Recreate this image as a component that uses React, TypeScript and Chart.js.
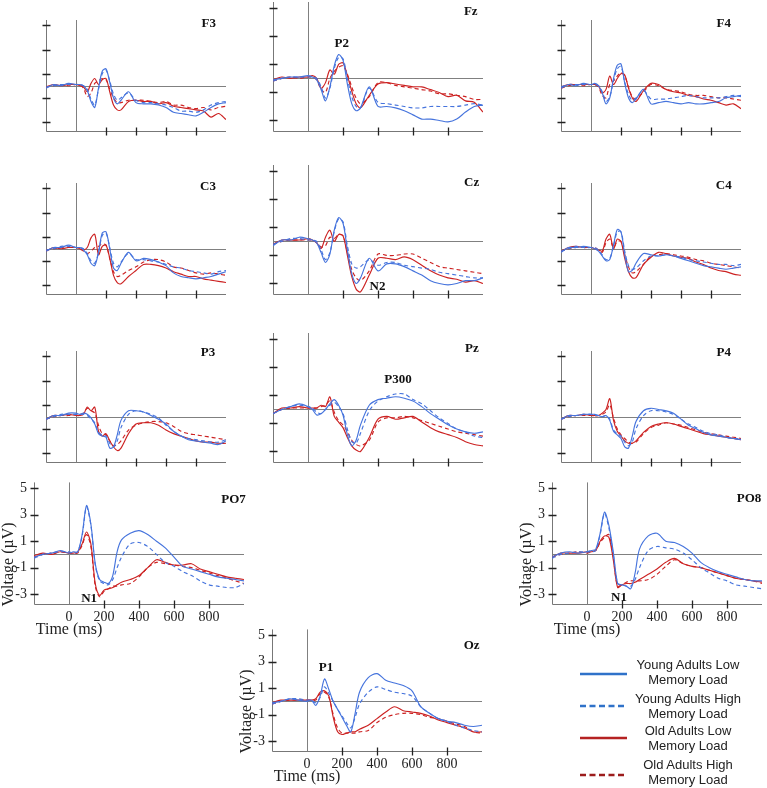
import React, { useEffect, useRef } from "react";
import { Chart, registerables } from "chart.js";

Chart.register(...registerables);

// ---------- data ----------
const TIMES = [-200, -150, -100, -50, 0, 25, 50, 75, 100, 125, 150, 175, 200, 225, 250, 275, 300, 350, 400, 450, 500, 550, 600, 650, 700, 750, 800, 850, 900, 950, 1000];
const Y_TICKS = [-3, -1, 1, 3, 5];
const X_TICKS = [0, 200, 400, 600, 800];
const SERIES_NAMES = ["Young Adults Low Memory Load", "Young Adults High Memory Load", "Old Adults Low Memory Load", "Old Adults High Memory Load"];
const LEGEND_LINES = [["Young Adults Low", "Memory Load"], ["Young Adults High", "Memory Load"], ["Old Adults Low", "Memory Load"], ["Old Adults High", "Memory Load"]];

const F3_YL = [-0.2, 0.1, 0.0, 0.2, 0.1, 0.1, 0.0, -0.4, -1.3, -1.8, -0.2, 1.2, 1.4, 0.3, -1.0, -1.5, -1.2, -0.5, -1.4, -1.5, -1.5, -1.6, -1.8, -2.2, -2.3, -2.4, -2.5, -2.2, -1.8, -1.5, -1.4];
const F3_YH = [-0.1, 0.0, 0.1, 0.1, 0.1, 0.1, 0.0, -0.3, -1.1, -1.6, -0.3, 1.0, 1.3, 0.4, -0.7, -1.2, -1.0, -0.6, -1.2, -1.4, -1.4, -1.5, -1.6, -1.8, -2.1, -2.1, -2.2, -2.0, -1.6, -1.4, -1.3];
const F3_OL = [-0.1, 0.1, 0.0, 0.1, 0.1, 0.0, -0.1, -0.5, 0.2, 0.6, 0.1, 0.5, 0.6, -0.5, -1.6, -2.0, -2.0, -1.3, -1.2, -1.3, -1.3, -1.5, -1.4, -1.7, -1.8, -1.9, -2.0, -2.1, -2.6, -2.3, -2.8];
const F3_OD = [-0.1, 0.0, 0.1, 0.0, 0.1, 0.1, -0.2, -0.9, -0.6, 0.2, 0.4, 0.6, 0.5, -0.3, -1.0, -1.4, -1.4, -1.2, -1.2, -1.2, -1.3, -1.4, -1.3, -1.6, -1.6, -1.8, -1.9, -1.8, -2.0, -1.8, -1.7];

const FZ_YL = [-0.1, 0.0, 0.1, 0.1, 0.2, 0.1, -0.1, -0.8, -1.6, -0.6, 0.9, 1.7, 1.3, -0.4, -1.8, -2.3, -2.1, -0.6, -2.0, -2.0, -2.1, -2.3, -2.6, -2.9, -2.9, -3.0, -3.1, -2.9, -2.4, -2.0, -1.9];
const FZ_YH = [-0.2, 0.0, 0.1, 0.1, 0.1, 0.1, 0.0, -0.6, -1.4, -0.7, 0.7, 1.5, 1.4, 0.0, -1.3, -2.0, -2.1, -0.7, -1.7, -1.8, -1.9, -2.0, -2.1, -2.1, -2.0, -2.0, -2.0, -2.0, -1.9, -1.8, -1.9];
const FZ_OL = [-0.1, 0.1, 0.0, 0.1, 0.1, 0.2, 0.0, -0.7, -0.3, 0.6, 0.3, 1.0, 1.1, 0.2, -0.9, -1.8, -2.1, -1.2, -0.4, -0.3, -0.4, -0.5, -0.6, -0.6, -0.8, -1.0, -1.3, -1.2, -1.6, -1.7, -2.4];
const FZ_OD = [-0.2, 0.0, 0.1, 0.0, 0.1, 0.1, -0.1, -0.8, -1.0, 0.0, 0.5, 0.8, 0.9, 0.3, -0.6, -1.4, -1.8, -1.3, -0.3, -0.3, -0.5, -0.6, -0.7, -0.8, -0.9, -1.1, -1.1, -1.2, -1.3, -1.5, -1.5];

const F4_YL = [-0.2, 0.1, 0.0, 0.2, 0.1, 0.2, 0.0, -0.6, -1.5, -1.0, 0.6, 1.7, 1.8, 0.2, -1.0, -1.4, -1.1, -0.3, -1.5, -1.4, -1.3, -1.4, -1.5, -1.4, -1.5, -1.5, -1.4, -1.3, -1.0, -0.9, -0.8];
const F4_YH = [-0.1, 0.1, 0.1, 0.1, 0.1, 0.1, 0.0, -0.5, -1.3, -0.9, 0.4, 1.4, 1.6, 0.3, -0.7, -1.2, -1.0, -0.4, -1.1, -1.1, -1.1, -1.0, -0.9, -0.8, -0.9, -1.0, -1.0, -1.0, -0.9, -0.8, -0.9];
const F4_OL = [-0.1, 0.1, 0.1, 0.1, 0.1, 0.1, 0.0, -0.6, -0.3, 0.8, 0.1, 0.6, 1.0, 0.9, -0.2, -1.0, -1.3, -0.4, 0.2, 0.1, -0.3, -0.5, -0.6, -0.8, -0.9, -1.1, -1.2, -1.4, -1.6, -1.5, -1.9];
const F4_OD = [-0.2, 0.0, 0.1, 0.0, 0.1, 0.1, -0.1, -0.8, -1.0, 0.1, 0.4, 0.8, 1.1, 0.8, -0.1, -0.9, -1.1, -0.5, 0.1, 0.0, -0.3, -0.4, -0.5, -0.7, -0.8, -0.8, -0.9, -1.0, -1.0, -1.1, -1.2];

const C3_YL = [-0.2, 0.1, 0.1, 0.3, 0.1, 0.1, -0.1, -0.5, -1.2, -1.4, -0.3, 1.3, 1.4, 0.0, -1.6, -1.8, -1.2, -0.3, -1.0, -0.8, -0.9, -1.1, -1.4, -2.0, -2.3, -2.4, -2.5, -2.4, -2.3, -2.1, -1.9];
const C3_YH = [-0.1, 0.0, 0.2, 0.2, 0.1, 0.1, 0.0, -0.4, -1.0, -1.2, -0.3, 1.1, 1.3, 0.1, -1.2, -1.5, -1.1, -0.4, -0.9, -0.9, -1.0, -1.1, -1.3, -1.5, -1.6, -1.8, -1.9, -2.0, -2.1, -1.9, -1.8];
const C3_OL = [-0.2, 0.1, 0.0, 0.1, 0.1, 0.0, -0.1, 0.1, 0.9, 1.2, -0.5, 0.2, 0.3, -0.8, -2.2, -2.8, -2.9, -2.3, -1.8, -1.3, -1.3, -1.4, -1.6, -1.9, -2.1, -2.3, -2.3, -2.5, -2.6, -2.7, -2.8];
const C3_OD = [-0.1, 0.0, 0.1, 0.1, 0.1, 0.0, -0.2, -0.4, -0.2, 0.1, 0.2, 0.4, 0.3, -0.8, -1.9, -2.3, -2.2, -1.8, -1.5, -1.1, -0.9, -0.9, -1.1, -1.5, -1.6, -1.8, -2.0, -2.1, -2.0, -2.1, -2.2];

const CZ_YL = [-0.3, 0.1, 0.1, 0.3, 0.2, 0.1, -0.1, -0.8, -1.5, -0.9, 0.8, 1.7, 1.3, -0.6, -2.3, -3.0, -2.6, -1.2, -2.1, -1.6, -1.6, -1.8, -2.1, -2.4, -2.8, -3.0, -3.1, -3.0, -2.8, -2.8, -2.6];
const CZ_YH = [-0.2, 0.0, 0.2, 0.2, 0.1, 0.1, 0.0, -0.6, -1.3, -0.8, 0.7, 1.6, 1.4, -0.3, -1.6, -1.9, -1.8, -1.3, -1.7, -1.5, -1.5, -1.7, -1.8, -1.9, -2.0, -2.2, -2.3, -2.4, -2.5, -2.6, -2.6];
const CZ_OL = [-0.2, 0.1, 0.1, 0.1, 0.2, 0.1, -0.1, -0.5, 0.3, 0.8, 0.0, 0.5, 0.4, -1.0, -2.5, -3.4, -3.6, -2.4, -1.2, -1.2, -1.3, -1.1, -1.3, -1.7, -2.1, -2.4, -2.6, -2.7, -2.9, -2.8, -3.0];
const CZ_OD = [-0.2, 0.0, 0.1, 0.1, 0.1, 0.1, -0.1, -0.4, -0.3, 0.3, 0.2, 0.5, 0.4, -0.8, -2.0, -2.6, -2.8, -2.1, -0.9, -1.0, -1.0, -0.9, -0.9, -1.2, -1.5, -1.8, -1.9, -2.0, -2.1, -2.2, -2.3];

const C4_YL = [-0.3, 0.1, 0.1, 0.2, 0.1, 0.0, -0.2, -0.6, -1.0, -0.9, 0.3, 1.6, 1.4, -0.5, -1.9, -1.8, -1.2, -0.4, -0.5, -0.6, -0.5, -0.6, -0.8, -1.0, -1.2, -1.4, -1.5, -1.6, -1.7, -1.6, -1.5];
const C4_YH = [-0.2, 0.0, 0.2, 0.1, 0.1, 0.1, -0.1, -0.5, -0.9, -0.8, 0.2, 1.4, 1.4, -0.2, -1.4, -1.7, -1.6, -1.0, -0.6, -0.6, -0.5, -0.6, -0.7, -0.9, -1.0, -1.1, -1.2, -1.3, -1.3, -1.4, -1.3];
const C4_OL = [-0.2, 0.1, 0.2, 0.1, 0.1, 0.0, -0.1, -0.2, 0.8, 1.2, 0.0, 0.8, 0.6, -0.8, -1.9, -2.4, -2.4, -1.3, -0.7, -0.3, -0.4, -0.6, -0.7, -0.8, -1.1, -1.3, -1.6, -1.8, -1.9, -2.1, -2.2];
const C4_OD = [-0.2, 0.0, 0.1, 0.1, 0.1, 0.1, -0.1, -0.3, 0.5, 0.8, 0.1, 0.6, 0.6, -0.5, -1.5, -2.0, -1.9, -1.3, -0.6, -0.5, -0.4, -0.5, -0.6, -0.7, -0.9, -1.0, -1.2, -1.3, -1.4, -1.5, -1.6];

const P3_YL = [-0.2, 0.1, 0.1, 0.3, 0.3, 0.2, 0.3, 0.2, -0.1, -0.6, -1.4, -1.6, -1.7, -2.6, -2.5, -1.5, -0.3, 0.5, 0.5, 0.4, 0.1, -0.2, -0.6, -1.2, -1.6, -1.9, -2.0, -2.1, -2.2, -2.3, -2.0];
const P3_YH = [-0.2, 0.0, 0.2, 0.2, 0.2, 0.2, 0.2, 0.1, -0.2, -0.5, -1.3, -1.5, -1.6, -2.2, -2.5, -2.0, -0.9, 0.2, 0.5, 0.4, 0.2, -0.1, -0.7, -1.2, -1.6, -1.8, -1.9, -2.0, -2.1, -2.1, -1.9];
const P3_OL = [-0.2, 0.1, 0.1, 0.2, 0.1, 0.1, 0.2, 0.8, 0.5, 0.8, -1.2, -1.6, -1.4, -2.0, -2.5, -2.8, -2.6, -1.4, -0.6, -0.5, -0.5, -0.7, -1.1, -1.4, -1.6, -1.8, -2.0, -2.1, -2.1, -2.2, -2.2];
const P3_OD = [-0.2, 0.0, 0.1, 0.1, 0.2, 0.2, 0.3, 0.7, 0.5, 0.3, -0.7, -1.4, -1.5, -2.0, -2.4, -2.3, -2.0, -1.1, -0.7, -0.5, -0.4, -0.4, -0.5, -0.8, -1.2, -1.4, -1.5, -1.6, -1.7, -1.8, -1.9];

const PZ_YL = [-0.3, 0.0, 0.2, 0.4, 0.2, 0.0, -0.4, -0.3, 0.0, 0.4, 0.7, 0.3, -0.4, -1.8, -2.6, -2.2, -1.1, 0.3, 0.7, 0.8, 0.9, 0.8, 0.6, 0.2, -0.3, -0.7, -1.1, -1.4, -1.6, -1.7, -1.6];
const PZ_YH = [-0.3, 0.0, 0.2, 0.3, 0.2, 0.1, -0.2, -0.3, 0.0, 0.3, 0.5, 0.2, -0.3, -1.4, -2.3, -2.4, -1.7, -0.1, 0.6, 0.9, 1.1, 1.1, 0.7, 0.4, -0.1, -0.6, -1.0, -1.4, -1.6, -1.9, -2.0];
const PZ_OL = [-0.3, 0.1, 0.1, 0.2, 0.1, 0.1, 0.1, 0.3, 0.2, 0.9, -0.5, -0.9, -1.3, -2.0, -2.6, -2.9, -3.0, -2.0, -0.7, -0.5, -0.7, -0.6, -0.5, -0.9, -1.3, -1.6, -1.8, -2.0, -2.3, -2.5, -2.6];
const PZ_OD = [-0.3, 0.0, 0.1, 0.1, 0.1, 0.1, 0.1, 0.2, 0.3, 0.6, -0.2, -0.8, -1.1, -1.6, -2.2, -2.5, -2.6, -2.2, -0.9, -0.6, -0.6, -0.5, -0.6, -0.8, -1.0, -1.2, -1.4, -1.6, -1.7, -1.8, -1.9];

const P4_YL = [-0.2, 0.1, 0.1, 0.2, 0.2, 0.2, 0.1, 0.0, 0.1, -0.3, -1.2, -1.5, -1.8, -2.5, -2.6, -1.6, -0.4, 0.5, 0.7, 0.6, 0.5, 0.3, -0.2, -0.7, -1.0, -1.3, -1.5, -1.6, -1.7, -1.8, -1.9];
const P4_YH = [-0.2, 0.0, 0.1, 0.2, 0.2, 0.1, 0.1, 0.0, 0.1, -0.2, -1.1, -1.4, -1.6, -2.1, -2.4, -2.1, -1.0, 0.1, 0.5, 0.5, 0.4, 0.2, -0.2, -0.6, -0.9, -1.2, -1.4, -1.5, -1.7, -1.8, -1.8];
const P4_OL = [-0.2, 0.1, 0.1, 0.2, 0.1, 0.1, 0.1, 0.3, 0.6, 1.5, -0.3, -1.2, -1.6, -2.0, -2.2, -2.2, -2.0, -1.3, -0.8, -0.6, -0.5, -0.6, -0.8, -1.0, -1.2, -1.4, -1.5, -1.6, -1.7, -1.8, -1.9];
const P4_OD = [-0.2, 0.0, 0.1, 0.1, 0.1, 0.1, 0.1, 0.2, 0.4, 1.0, -0.1, -1.0, -1.5, -1.8, -2.1, -2.2, -2.1, -1.4, -0.9, -0.7, -0.5, -0.6, -0.7, -0.9, -1.1, -1.3, -1.4, -1.5, -1.6, -1.7, -1.8];

const PO7_YL = [-0.2, 0.0, 0.1, 0.3, 0.1, 0.2, 0.2, 1.5, 3.7, 2.3, -0.7, -1.9, -2.1, -2.2, -1.6, 0.2, 1.1, 1.6, 1.8, 1.5, 1.0, 0.5, -0.2, -0.9, -1.1, -1.3, -1.5, -1.7, -1.8, -1.9, -2.0];
const PO7_YH = [-0.3, 0.0, 0.1, 0.2, 0.2, 0.1, 0.2, 1.4, 3.6, 2.2, -0.8, -2.0, -2.2, -2.3, -1.9, -1.0, -0.2, 0.8, 0.9, 0.6, 0.0, -0.6, -0.9, -1.3, -1.6, -2.0, -2.3, -2.4, -2.5, -2.5, -2.2];
const PO7_OL = [-0.1, 0.1, 0.0, 0.2, 0.1, 0.1, 0.2, 0.8, 1.7, 0.8, -2.2, -3.1, -2.7, -2.6, -2.5, -2.3, -2.1, -1.9, -1.6, -1.0, -0.4, -0.6, -0.8, -0.8, -0.7, -1.1, -1.3, -1.5, -1.7, -1.8, -1.9];
const PO7_OD = [-0.2, 0.0, 0.1, 0.2, 0.1, 0.1, 0.1, 0.7, 1.5, 0.6, -2.4, -3.2, -2.8, -2.6, -2.4, -2.4, -2.3, -2.2, -1.7, -1.0, -0.6, -0.7, -0.8, -0.9, -1.0, -1.2, -1.4, -1.6, -1.8, -2.0, -2.2];

const PO8_YL = [-0.2, 0.1, 0.2, 0.1, 0.2, 0.3, 0.4, 1.6, 3.2, 2.2, 0.2, -2.2, -2.3, -2.4, -2.6, -1.4, 0.4, 1.4, 1.6, 1.0, 0.9, 0.6, 0.1, -0.6, -1.0, -1.3, -1.5, -1.7, -1.9, -2.0, -2.0];
const PO8_YH = [-0.3, 0.0, 0.1, 0.2, 0.2, 0.2, 0.3, 1.5, 3.1, 2.0, 0.0, -2.2, -2.3, -2.4, -2.4, -1.9, -1.0, 0.3, 0.6, 0.5, 0.4, 0.1, -0.4, -1.0, -1.4, -1.8, -2.0, -2.3, -2.4, -2.5, -2.6];
const PO8_OL = [-0.2, 0.1, 0.1, 0.1, 0.2, 0.2, 0.3, 1.0, 1.4, 1.3, -0.4, -2.5, -2.3, -2.2, -2.2, -2.1, -1.9, -1.5, -1.1, -0.6, -0.3, -0.7, -0.9, -1.0, -1.2, -1.4, -1.6, -1.8, -1.9, -2.0, -2.1];
const PO8_OD = [-0.2, 0.0, 0.1, 0.2, 0.1, 0.2, 0.3, 0.9, 1.3, 1.5, -0.2, -2.4, -2.3, -2.1, -2.0, -2.0, -2.0, -1.9, -1.5, -0.9, -0.4, -0.7, -0.9, -1.0, -1.2, -1.4, -1.6, -1.8, -1.9, -2.0, -2.2];

const OZ_YL = [-0.1, 0.0, 0.2, 0.1, 0.0, 0.1, -0.3, 0.4, 1.7, 0.9, 0.0, -0.6, -1.2, -1.8, -2.3, -0.9, 0.7, 1.8, 2.1, 1.6, 1.4, 1.2, 0.8, -0.4, -0.9, -1.3, -1.5, -1.6, -1.8, -1.9, -1.8];
const OZ_YH = [-0.2, 0.0, 0.2, 0.2, 0.1, 0.1, -0.1, 0.3, 1.1, 0.6, 0.0, -0.6, -1.1, -1.6, -2.0, -1.2, -0.2, 0.7, 1.1, 0.9, 0.7, 0.6, 0.4, -0.4, -0.9, -1.3, -1.5, -1.8, -2.0, -2.2, -2.3];
const OZ_OL = [-0.1, 0.1, 0.1, 0.1, 0.1, 0.1, 0.2, 0.7, 0.8, 0.4, -1.2, -2.3, -2.5, -2.4, -2.3, -2.3, -2.1, -1.8, -1.3, -0.8, -0.4, -0.7, -0.8, -0.9, -1.1, -1.4, -1.6, -1.8, -2.0, -2.3, -2.3];
const OZ_OD = [-0.2, 0.0, 0.1, 0.1, 0.1, 0.1, 0.1, 0.6, 0.7, 0.3, -1.0, -2.0, -2.4, -2.4, -2.4, -2.4, -2.3, -2.2, -1.6, -1.2, -1.0, -0.9, -0.9, -1.0, -1.2, -1.3, -1.5, -1.7, -1.9, -2.3, -2.4];

// ---------- layout / style ----------
const X_MIN = -200, X_MAX = 1000, Y_MIN = -3.75, Y_MAX = 5.45;
const SIZES: any = { small: { w: 180, h: 111 }, large: { w: 210, h: 129 } };
const BLUE = "#4674dd";
const RED = "#cc2222";
const SERIF = "'Liberation Serif', 'Times New Roman', serif";
const SANS = "'Liberation Sans', Arial, sans-serif";

const PANELS = [
  { name: "F3", L: 46, T: 20, size: "small", labeled: false, series: [F3_YL, F3_YH, F3_OL, F3_OD], title: [885, 5.12] },
  { name: "Fz", L: 273, T: 2, size: "large", labeled: false, series: [FZ_YL, FZ_YH, FZ_OL, FZ_OD], title: [930, 4.74], peak: ["P2", 193, 2.5] },
  { name: "F4", L: 561, T: 20, size: "small", labeled: false, series: [F4_YL, F4_YH, F4_OL, F4_OD], title: [885, 5.12] },
  { name: "C3", L: 46, T: 183, size: "small", labeled: false, series: [C3_YL, C3_YH, C3_OL, C3_OD], title: [880, 5.12] },
  { name: "Cz", L: 273, T: 165, size: "large", labeled: false, series: [CZ_YL, CZ_YH, CZ_OL, CZ_OD], title: [935, 4.17], peak: ["N2", 397, -3.26] },
  { name: "C4", L: 561, T: 183, size: "small", labeled: false, series: [C4_YL, C4_YH, C4_OL, C4_OD], title: [885, 5.2] },
  { name: "P3", L: 46, T: 351, size: "small", labeled: false, series: [P3_YL, P3_YH, P3_OL, P3_OD], title: [880, 5.29] },
  { name: "Pz", L: 273, T: 333, size: "large", labeled: false, series: [PZ_YL, PZ_YH, PZ_OL, PZ_OD], title: [937, 4.31], peak: ["P300", 514, 2.1] },
  { name: "P4", L: 561, T: 351, size: "small", labeled: false, series: [P4_YL, P4_YH, P4_OL, P4_OD], title: [885, 5.29] },
  { name: "PO7", L: 34, T: 475, size: "large", labeled: true, series: [PO7_YL, PO7_YH, PO7_OL, PO7_OD], title: [940, 4.17], peak: ["N1", 115, -3.33] },
  { name: "PO8", L: 552, T: 475, size: "large", labeled: true, series: [PO8_YL, PO8_YH, PO8_OL, PO8_OD], title: [926, 4.24], peak: ["N1", 183, -3.26] },
  { name: "Oz", L: 272, T: 622, size: "large", labeled: true, series: [OZ_YL, OZ_YH, OZ_OL, OZ_OD], title: [941, 4.24], peak: ["P1", 109, 2.53] },
];

const SERIES_STYLE = [
  { color: BLUE, dash: [] as number[] },
  { color: BLUE, dash: [4, 3] },
  { color: RED, dash: [] as number[] },
  { color: RED, dash: [4, 3] },
];

function ErpPanel({ p }: { p: any }) {
  const ref = useRef<HTMLCanvasElement>(null);
  const { w, h } = SIZES[p.size];
  const M = 8;
  const yw = p.labeled ? Math.min(40, p.L) : 0;
  const xh = p.labeled ? 45 : 0;
  const cl = p.labeled ? p.L - yw : p.L - M;
  const ct = p.T - M;
  const cw = p.labeled ? yw + w + M : w + 2 * M;
  const ch = p.labeled ? M + h + xh : h + 2 * M;

  useEffect(() => {
    const plugin = {
      id: "erpAxes",
      beforeDatasetsDraw(chart: any) {
        const { ctx, chartArea: a, scales } = chart;
        const xs = scales.x, ys = scales.y;
        const x0 = Math.round(xs.getPixelForValue(0)) + 0.5;
        const y0 = Math.round(ys.getPixelForValue(0)) + 0.5;
        const left = Math.round(a.left) + 0.5;
        const bottom = Math.round(a.bottom) + 0.5;
        ctx.save();
        ctx.lineWidth = 1;
        ctx.strokeStyle = "#777";
        ctx.beginPath();
        ctx.moveTo(left, a.top);
        ctx.lineTo(left, bottom);
        ctx.lineTo(a.right, bottom);
        ctx.stroke();
        ctx.strokeStyle = "#808080";
        ctx.beginPath();
        ctx.moveTo(x0, a.top);
        ctx.lineTo(x0, bottom);
        ctx.moveTo(left, y0);
        ctx.lineTo(a.right, y0);
        ctx.stroke();
        ctx.strokeStyle = "#222";
        ctx.lineWidth = 1.3;
        ctx.beginPath();
        Y_TICKS.forEach((v) => {
          const yy = Math.round(ys.getPixelForValue(v)) + 0.5;
          ctx.moveTo(left - 4, yy);
          ctx.lineTo(left + 4, yy);
        });
        X_TICKS.filter((v) => v !== 0).forEach((v) => {
          const xx = Math.round(xs.getPixelForValue(v)) + 0.5;
          ctx.moveTo(xx, bottom - 4);
          ctx.lineTo(xx, bottom + 4);
        });
        ctx.stroke();
        ctx.restore();
      },
      afterDatasetsDraw(chart: any) {
        const { ctx, chartArea: a, scales } = chart;
        const xs = scales.x, ys = scales.y;
        ctx.save();
        ctx.fillStyle = "#111";
        ctx.textAlign = "center";
        ctx.textBaseline = "middle";
        ctx.font = `bold 13px ${SERIF}`;
        ctx.fillText(p.name, xs.getPixelForValue(p.title[0]), ys.getPixelForValue(p.title[1]));
        if (p.peak) {
          ctx.fillText(p.peak[0], xs.getPixelForValue(p.peak[1]), ys.getPixelForValue(p.peak[2]));
        }
        if (p.labeled) {
          ctx.fillStyle = "#222";
          ctx.font = `16px ${SERIF}`;
          ctx.fillText("Time (ms)", xs.getPixelForValue(0), a.bottom + 26);
          ctx.translate(a.left - 25, ys.getPixelForValue(0) + 10);
          ctx.rotate(-Math.PI / 2);
          ctx.fillText("Voltage (\u00b5V)", 0, 0);
        }
        ctx.restore();
      },
    };

    const datasets = p.series.map((vals: number[], i: number) => ({
      label: SERIES_NAMES[i],
      data: TIMES.map((t, k) => ({ x: t, y: vals[k] })),
      borderColor: SERIES_STYLE[i].color,
      borderDash: SERIES_STYLE[i].dash,
      borderWidth: 1.15,
      pointRadius: 0,
      tension: 0.3,
      fill: false,
    }));

    const tickFont = { family: SERIF, size: 14 };
    const chart = new Chart(ref.current as HTMLCanvasElement, {
      type: "line",
      data: { datasets },
      plugins: [plugin],
      options: {
        animation: false,
        responsive: false,
        devicePixelRatio: 1,
        events: [],
        layout: {
          padding: p.labeled
            ? { left: 0, top: M, right: M, bottom: 0 }
            : { left: M, top: M, right: M, bottom: M },
        },
        plugins: { legend: { display: false }, tooltip: { enabled: false }, title: { display: false } },
        scales: {
          x: {
            type: "linear",
            min: X_MIN,
            max: X_MAX,
            display: p.labeled,
            grid: { display: false, drawTicks: false },
            border: { display: false },
            ticks: { font: tickFont, color: "#222", padding: 5, maxRotation: 0, autoSkip: false },
            afterBuildTicks: (s: any) => { s.ticks = X_TICKS.map((v) => ({ value: v })); },
            afterFit: (s: any) => { s.height = xh; },
          },
          y: {
            type: "linear",
            min: Y_MIN,
            max: Y_MAX,
            display: p.labeled,
            grid: { display: false, drawTicks: false },
            border: { display: false },
            ticks: { font: tickFont, color: "#222", padding: 7, autoSkip: false },
            afterBuildTicks: (s: any) => { s.ticks = Y_TICKS.map((v) => ({ value: v })); },
            afterFit: (s: any) => { s.width = yw; },
          },
        },
      } as any,
    });
    return () => chart.destroy();
  }, []);

  return (
    <canvas
      ref={ref}
      width={cw}
      height={ch}
      style={{ position: "absolute", left: cl, top: ct, width: cw, height: ch }}
    />
  );
}

const LEGEND_POS = [
  { lineY: 674, textTop: 657 },
  { lineY: 706, textTop: 691 },
  { lineY: 738, textTop: 723 },
  { lineY: 775, textTop: 757 },
];
const LEGEND_COLORS = ["#2f72c9", "#2f72c9", "#b52222", "#9c1c1c"];
const LEGEND_DASH = ["", "6 3.5", "", "6 3.5"];

function Legend() {
  return (
    <>
      {LEGEND_LINES.map((lines, i) => (
        <React.Fragment key={i}>
          <svg
            width={50}
            height={6}
            style={{ position: "absolute", left: 579, top: LEGEND_POS[i].lineY - 3 }}
          >
            <line x1={1} y1={3} x2={48} y2={3} stroke={LEGEND_COLORS[i]} strokeWidth={2.6} strokeDasharray={LEGEND_DASH[i] || undefined} />
          </svg>
          <div
            style={{
              position: "absolute",
              left: 630,
              width: 116,
              top: LEGEND_POS[i].textTop,
              textAlign: "center",
              fontFamily: SANS,
              fontSize: 13,
              lineHeight: "15px",
              color: "#222",
            }}
          >
            {lines[0]}
            <br />
            {lines[1]}
          </div>
        </React.Fragment>
      ))}
    </>
  );
}

export default function App() {
  return (
    <div style={{ position: "absolute", left: 0, top: 0, width: 767, height: 788, background: "#fff", overflow: "hidden" }}>
      {PANELS.map((p) => (
        <ErpPanel key={p.name} p={p} />
      ))}
      <Legend />
    </div>
  );
}
